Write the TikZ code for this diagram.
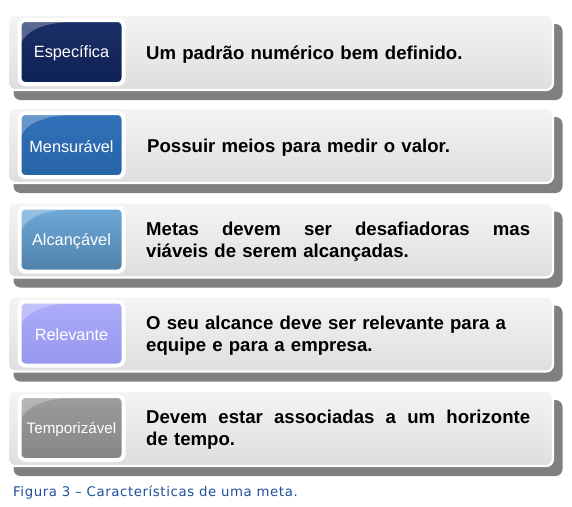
\documentclass[tikz,border=0pt]{standalone}
\usepackage{fontspec}
\setmainfont{Liberation Sans}
\newfontfamily\capfont[LetterSpace=4.5]{DejaVu Sans}
\usetikzlibrary{calc}
\definecolor{shadowgrey}{HTML}{808080}
\definecolor{bandtop}{HTML}{F4F4F4}
\definecolor{bandbot}{HTML}{DEDEDE}
\definecolor{capblue}{HTML}{1F4E9A}
\definecolor{cA1}{HTML}{1A2F68}\definecolor{cA2}{HTML}{0F2255}
\definecolor{cB1}{HTML}{3272BA}\definecolor{cB2}{HTML}{2763A6}
\definecolor{cC1}{HTML}{6EAAD9}\definecolor{cC2}{HTML}{4F80A9}
\definecolor{cD1}{HTML}{ADADFA}\definecolor{cD2}{HTML}{9696EE}
\definecolor{cE1}{HTML}{9C9C9C}\definecolor{cE2}{HTML}{858585}
\tikzset{
  shadowbox/.style={fill=shadowgrey, rounded corners=7pt, minimum width=549pt, minimum height=76pt, inner sep=0pt},
  bandbox/.style={draw=white, line width=2.2pt, top color=bandtop, bottom color=bandbot, rounded corners=7pt, minimum width=545pt, minimum height=75pt, inner sep=0pt},
  innerbox/.style={draw=white, line width=4pt, rounded corners=6pt, minimum width=104pt, minimum height=64pt, inner sep=0pt},
  labeltext/.style={text=white, font=\fontsize{16.3}{19}\selectfont},
  bodytext/.style={anchor=west, text width=384pt, align=left, inner sep=0pt, font=\fontsize{18.6}{22}\selectfont\bfseries},
  gloss/.style={fill=white, opacity=0.28}
}
\newcommand{\glossat}[1]{%
  \fill[gloss] ($(#1.north west)+(3,3)$) -- ($(#1.north west)+(3,26)$)
    .. controls ($(#1.north west)+(10,10)$) and ($(#1.north west)+(30,4)$) .. ($(#1.north west)+(64,3)$) -- cycle;}
\begin{document}
\begin{tikzpicture}[x=1pt,y=-1pt]
\useasboundingbox (0,0) rectangle (572,506);
% band 1
\node[shadowbox] (s1) at (288,62) {};
\node[bandbox] (b1) at (280.5,52.5) {};
\node[innerbox, top color=cA1, bottom color=cA2] (i1) at (71.5,52) {};
\glossat{i1}
\node[labeltext] (l1) at ($(i1.center)+(0,1.5)$) {Específica};
\node[bodytext] (t1) at (146,55) {Um padrão numérico bem definido.};
% band 2
\node[shadowbox] (s2) at (288,155) {};
\node[bandbox] (b2) at (280.5,145.5) {};
\node[innerbox, top color=cB1, bottom color=cB2] (i2) at (71.5,145) {};
\glossat{i2}
\node[labeltext] (l2) at ($(i2.center)+(0,1.5)$) {Mensurável};
\node[bodytext] (t2) at (147,148) {Possuir meios para medir o valor.};
% band 3
\node[shadowbox] (s3) at (288,249.5) {};
\node[bandbox] (b3) at (280.5,240) {};
\node[innerbox, top color=cC1, bottom color=cC2] (i3) at (71.5,239.5) {};
\glossat{i3}
\node[labeltext] (l3) at ($(i3.center)+(0,1.5)$) {Alcançável};
\node[bodytext] (t3) at (146,241.5) {\hbox to 384pt{Metas\hfill devem\hfill ser\hfill desafiadoras\hfill mas}\\viáveis de serem alcançadas.};
% band 4
\node[shadowbox] (s4) at (288,343.5) {};
\node[bandbox] (b4) at (280.5,334) {};
\node[innerbox, top color=cD1, bottom color=cD2] (i4) at (71.5,333.5) {};
\glossat{i4}
\node[labeltext] (l4) at ($(i4.center)+(0,1.5)$) {Relevante};
\node[bodytext] (t4) at (146,335.5) {O seu alcance deve ser relevante para a\\equipe e para a empresa.};
% band 5
\node[shadowbox] (s5) at (288,438) {};
\node[bandbox] (b5) at (280.5,428.5) {};
\node[innerbox, top color=cE1, bottom color=cE2] (i5) at (71.5,428) {};
\glossat{i5}
\node[labeltext, font=\fontsize{15.2}{18}\selectfont] (l5) at ($(i5.center)+(0,1.5)$) {Temporizável};
\node[bodytext] (t5) at (146,429.5) {\hbox to 384pt{Devem\hfill estar\hfill associadas\hfill a\hfill um\hfill horizonte}\\de tempo.};
% caption
\node[anchor=west, inner sep=0pt, text=capblue, font=\capfont\fontsize{13.3}{15}\selectfont] (cap) at (13,493) {Figura 3 – Características de uma meta.};
\end{tikzpicture}
\end{document}
